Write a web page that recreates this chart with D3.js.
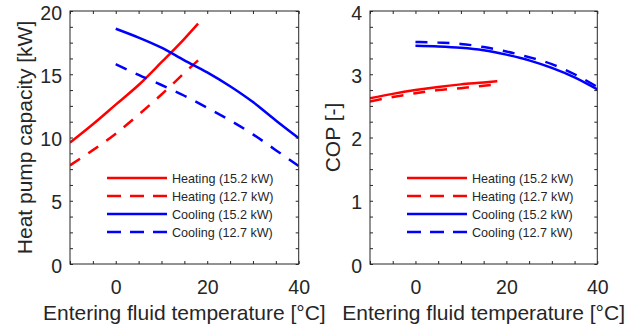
<!DOCTYPE html>
<html>
<head>
<meta charset="utf-8">
<script src="https://cdn.jsdelivr.net/npm/d3@7"></script>
<style>
  html, body { margin: 0; padding: 0; background: #fff; }
  svg { display: block; font-family: "Liberation Sans", Arial, sans-serif; }
</style>
</head>
<body>
<div id="chart"></div>
<script>
// ============================================================
//  Heat pump capacity and COP vs entering fluid temperature
// ============================================================

// ---- Data ----
const tempHeat = [-10, -5, 0, 5, 10, 15, 18];             // °C
const tempCool = [0, 5, 10, 15, 20, 25, 30, 35, 40];      // °C

const capHeat152 = [9.6, 11.05, 12.6, 14.15, 15.95, 17.8, 19.0];
const capHeat127 = [7.8, 9.0, 10.3, 11.8, 13.4, 15.1, 16.1];
const capCool152 = [18.6, 17.9, 17.1, 16.1, 15.15, 14.05, 12.8, 11.35, 9.95];
const capCool127 = [15.8, 14.95, 14.15, 13.3, 12.35, 11.35, 10.25, 9.0, 7.75];

const copHeat152 = [2.62, 2.69, 2.75, 2.8, 2.84, 2.87, 2.89];
const copHeat127 = [2.57, 2.64, 2.7, 2.75, 2.78, 2.82, 2.84];
const copCool152 = [3.45, 3.44, 3.42, 3.38, 3.31, 3.22, 3.1, 2.95, 2.76];
const copCool127 = [3.51, 3.5, 3.48, 3.43, 3.36, 3.27, 3.16, 3.0, 2.8];

const legendLabels = ['Heating (15.2 kW)', 'Heating (12.7 kW)', 'Cooling (15.2 kW)', 'Cooling (12.7 kW)'];

const xDomain = [-10, 40];
const xTicks = d3.range(-10, 41, 5);
const xLabels = [0, 20, 40];

const capDomain = [0, 20];
const capTicks = d3.range(0, 20.01, 1.25);
const capLabels = [0, 5, 10, 15, 20];

const copDomain = [0, 4];
const copTicks = d3.range(0, 4.01, 0.25);
const copLabels = [0, 1, 2, 3, 4];

// ---- Layout ----
const W = 629, H = 330;
const axisColor = '#262626';
const red = '#ff0000', blue = '#0000ff';

const svg = d3.select('#chart').append('svg')
  .attr('width', W).attr('height', H);

function drawPanel(opt) {
  const { x0, x1, y0, y1, yDomain, yTicks, yLabels, yTitle, yTitleX, series, id } = opt;

  const x = d3.scaleLinear().domain(xDomain).range([x0, x1]);
  const y = d3.scaleLinear().domain(yDomain).range([y1, y0]);

  const g = svg.append('g');

  g.append('clipPath').attr('id', 'clip-' + id)
    .append('rect').attr('x', x0).attr('y', y0)
    .attr('width', x1 - x0).attr('height', y1 - y0);

  // Curves
  const line = d3.line()
    .x(d => x(d[0])).y(d => y(d[1]))
    .curve(d3.curveMonotoneX);

  series.forEach(s => {
    g.append('path')
      .datum(d3.zip(s.xs, s.ys))
      .attr('clip-path', `url(#clip-${id})`)
      .attr('fill', 'none')
      .attr('stroke', s.color)
      .attr('stroke-width', 2.5)
      .attr('stroke-dasharray', s.dashed ? '12,10' : null)
      .attr('d', line);
  });

  // Axes (ticks inside, box on)
  const fmt = labels => d => labels.includes(d) ? d3.format('d')(d) : '';

  const bottom = g.append('g').attr('transform', `translate(0,${y1})`)
    .call(d3.axisBottom(x).tickValues(xTicks).tickSize(-3).tickPadding(16).tickFormat(fmt(xLabels)));
  g.append('g').attr('transform', `translate(0,${y0})`)
    .call(d3.axisTop(x).tickValues(xTicks).tickSize(-3).tickFormat(''));
  const left = g.append('g').attr('transform', `translate(${x0},0)`)
    .call(d3.axisLeft(y).tickValues(yTicks).tickSize(-3).tickPadding(8).tickFormat(fmt(yLabels)));
  g.append('g').attr('transform', `translate(${x1},0)`)
    .call(d3.axisRight(y).tickValues(yTicks).tickSize(-3).tickFormat(''));

  g.selectAll('.domain').remove();
  g.selectAll('.tick line').attr('stroke', axisColor).attr('stroke-width', 1);
  g.selectAll('.tick text').attr('fill', axisColor).attr('font-size', 19.5)
    .attr('font-family', '"Liberation Sans", Arial, sans-serif');
  left.selectAll('.tick text').attr('dy', '0.42em');

  g.append('rect')
    .attr('x', x0).attr('y', y0)
    .attr('width', x1 - x0).attr('height', y1 - y0)
    .attr('fill', 'none').attr('stroke', axisColor).attr('stroke-width', 1);

  // Titles
  g.append('text')
    .attr('x', (x0 + x1) / 2).attr('y', 320)
    .attr('text-anchor', 'middle')
    .attr('fill', axisColor).attr('font-size', 21)
    .text('Entering fluid temperature [°C]');

  g.append('text')
    .attr('transform', `translate(${yTitleX},${(y0 + y1) / 2}) rotate(-90)`)
    .attr('text-anchor', 'middle')
    .attr('fill', axisColor).attr('font-size', 21)
    .text(yTitle);

  // Legend (no box)
  const lx = x0 + 37, ly = 178, row = 18;
  series.forEach((s, i) => {
    const yy = ly + i * row;
    g.append('line')
      .attr('x1', lx).attr('x2', lx + 60)
      .attr('y1', yy).attr('y2', yy)
      .attr('stroke', s.color).attr('stroke-width', 2.5)
      .attr('stroke-dasharray', s.dashed ? '14,9' : null);
    g.append('text')
      .attr('x', lx + 65).attr('y', yy)
      .attr('dy', '0.36em')
      .attr('fill', axisColor).attr('font-size', 12.6)
      .text(legendLabels[i]);
  });
}

drawPanel({
  id: 'cap', x0: 70, x1: 298.7, y0: 11, y1: 264,
  yDomain: capDomain, yTicks: capTicks, yLabels: capLabels,
  yTitle: 'Heat pump capacity [kW]', yTitleX: 32,
  series: [
    { xs: tempHeat, ys: capHeat152, color: red, dashed: false },
    { xs: tempHeat, ys: capHeat127, color: red, dashed: true },
    { xs: tempCool, ys: capCool152, color: blue, dashed: false },
    { xs: tempCool, ys: capCool127, color: blue, dashed: true },
  ],
});

drawPanel({
  id: 'cop', x0: 370, x1: 597.3, y0: 11, y1: 264,
  yDomain: copDomain, yTicks: copTicks, yLabels: copLabels,
  yTitle: 'COP [-]', yTitleX: 340,
  series: [
    { xs: tempHeat, ys: copHeat152, color: red, dashed: false },
    { xs: tempHeat, ys: copHeat127, color: red, dashed: true },
    { xs: tempCool, ys: copCool152, color: blue, dashed: false },
    { xs: tempCool, ys: copCool127, color: blue, dashed: true },
  ],
});
</script>
</body>
</html>
